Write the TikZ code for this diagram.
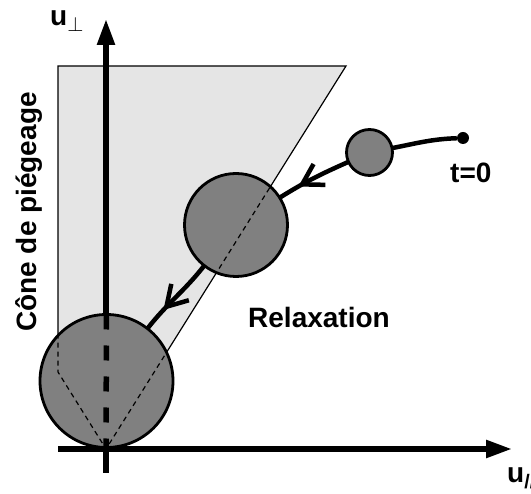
\documentclass[tikz,border=0pt]{standalone}
\usepackage{fontspec}
\setmainfont{Liberation Sans}
\usetikzlibrary{arrows.meta,decorations.markings}
\pgfdeclarelayer{bg}
\pgfdeclarelayer{trajlayer}
\pgfsetlayers{bg,trajlayer,main}
\definecolor{conegray}{gray}{0.9}
\definecolor{ballgray}{gray}{0.5}
\tikzset{
  axisarrow/.style={line width=5.5pt, -{Triangle[length=26pt,width=17pt]}},
  ball/.style={circle, draw, line width=2.8pt, fill=ballgray, inner sep=0pt, outer sep=0pt},
  traj/.style={line width=4.5pt},
  trajarrow/.style={traj, postaction={decorate}, decoration={markings,
      mark=at position #1 with {\arrow{Straight Barb[length=20pt,width=24pt]}}}},
  lab/.style={font=\fontsize{28}{32}\selectfont\bfseries, inner sep=0pt},
  thindash/.style={line width=1.2pt, dash pattern=on 5pt off 4pt},
}
\begin{document}
\begin{tikzpicture}[x=1pt,y=1pt]
\useasboundingbox (0,0) rectangle (531,-494);
% cone corners and axis ends
\coordinate (c1) at (58,-66);
\coordinate (c2) at (346,-66);
\coordinate (o) at (106,-449);
\coordinate (c4) at (58,-372);
\coordinate (ytop) at (106,-19);
\coordinate (ybot) at (106,-473);
\coordinate (xl) at (58,-449);
\coordinate (xr) at (512,-449);

% balls
\node[ball, minimum size=46pt] (s) at (369.5,-152.5) {};
\node[ball, minimum size=103pt] (m) at (236,-225) {};
\node[ball, minimum size=133pt] (b) at (106.5,-381) {};
\node[circle, fill, inner sep=0pt, minimum size=12pt] (dot) at (463,-138) {};

\begin{pgfonlayer}{bg}
  \fill[conegray] (c1) -- (c2) -- (o) -- (c4) -- cycle;
  \draw[line width=1.2pt] (c1) -- (c2) -- (o) -- (c4) -- cycle;
  \draw[axisarrow] (ybot) -- (ytop);
  \draw[axisarrow] (xl) -- (xr);
\end{pgfonlayer}

\begin{pgfonlayer}{trajlayer}
  \draw[traj] (dot) to[out=182,in=11] (s);
  \draw[trajarrow=0.72] (s) to[out=204,in=32] (m);
  \draw[trajarrow=0.71] (m) to[out=232,in=52] (b);
\end{pgfonlayer}

% dashed parts seen through the balls
\begin{scope}
  \clip (m.center) circle (51.5pt);
  \draw[thindash] (c2) -- (o);
\end{scope}
\begin{scope}
  \clip (b.center) circle (66.5pt);
  \draw[thindash] (c2) -- (o) -- (c4) -- (c1);
  \draw[line width=5.5pt, dash pattern=on 15pt off 16pt] (b.north) -- (o);
\end{scope}

% labels
\node[lab, anchor=base west] (relax) at (248,-328) {Relaxation};
\node[lab, anchor=base west] (t0) at (450,-183) {t=0};
\node[lab, anchor=base west, rotate=90] (cone) at (37,-332) {Cône de piégeage};
\node[lab, anchor=base west] (uperp) at (50,-26) {u$_\perp$};
\node[lab, anchor=base west] (upar) at (507,-483) {u\textsubscript{//}};
\end{tikzpicture}
\end{document}
